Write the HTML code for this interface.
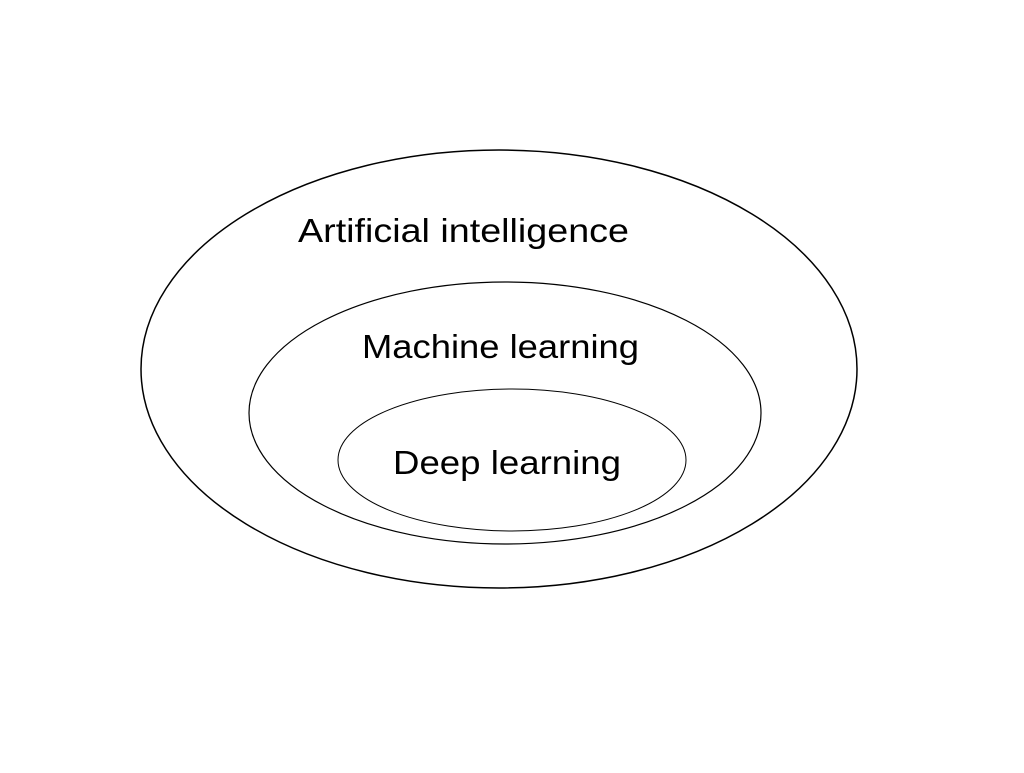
<!DOCTYPE html>
<html><head><meta charset="utf-8"><style>html,body{margin:0;padding:0;background:#fff}</style></head>
<body>
<svg width="1024" height="768" viewBox="0 0 1024 768" xmlns="http://www.w3.org/2000/svg">
<rect width="1024" height="768" fill="#fff"/>
<ellipse cx="499" cy="369" rx="358" ry="219" fill="none" stroke="#000" stroke-width="1.5"/>
<ellipse cx="505" cy="413" rx="256" ry="131" fill="none" stroke="#000" stroke-width="1.2"/>
<ellipse cx="512" cy="460" rx="174" ry="71" fill="none" stroke="#000" stroke-width="1"/>
<g font-family="Liberation Sans, sans-serif" font-size="33" fill="#000">
<text x="298" y="242" textLength="331" lengthAdjust="spacingAndGlyphs">Artificial intelligence</text>
<text x="362" y="358" textLength="277" lengthAdjust="spacingAndGlyphs">Machine learning</text>
<text x="393" y="474" textLength="228" lengthAdjust="spacingAndGlyphs">Deep learning</text>
</g>
</svg>
</body></html>
